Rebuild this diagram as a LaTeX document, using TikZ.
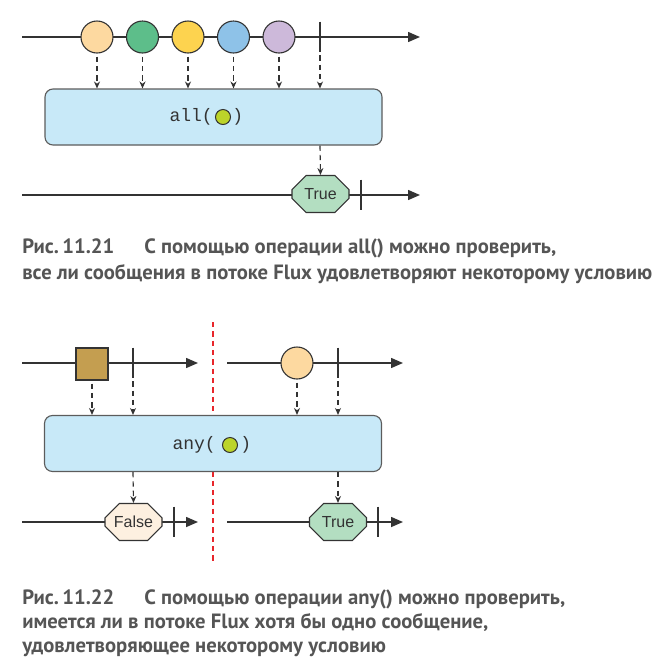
\documentclass[tikz,border=0pt]{standalone}
\usepackage{fontspec}
\setmainfont{Liberation Sans}
\setmonofont{Liberation Mono}
\newfontfamily\capfont{PT Sans}
\usetikzlibrary{arrows.meta,shapes.misc}
\def\pxu{0.75pt}
\definecolor{ink}{HTML}{333333}
\definecolor{cpeach}{HTML}{FDD9A0}
\definecolor{cgreen}{HTML}{5DBE8A}
\definecolor{cyellow}{HTML}{FDD34F}
\definecolor{cblue}{HTML}{8EC2E8}
\definecolor{clav}{HTML}{CDB9DA}
\definecolor{boxfill}{HTML}{C8E9F8}
\definecolor{gdotc}{HTML}{BCD42A}
\definecolor{truec}{HTML}{B3DEC1}
\definecolor{falsec}{HTML}{FDF0E0}
\definecolor{sqc}{HTML}{C49E50}
\definecolor{redd}{HTML}{E8262B}
\definecolor{capc}{HTML}{555555}
\tikzset{
  tl/.style={draw=ink, line width=1.5*\pxu, -{Triangle[length=12*\pxu, width=10*\pxu]}},
  ev/.style={circle, draw=ink, line width=1.1*\pxu, minimum size=32*\pxu, inner sep=0pt},
  sq/.style={rectangle, draw=ink, line width=1.1*\pxu, minimum size=32*\pxu, inner sep=0pt, fill=sqc},
  tickn/.style={inner sep=0pt, minimum width=0pt, minimum height=30*\pxu},
  tickline/.style={draw=ink, line width=2.2*\pxu},
  da/.style={draw=ink, line width=0.85pt, dash pattern=on 4pt off 3pt, -{Stealth[length=5.2pt, width=4.5pt]}},
  opbox/.style={rectangle, rounded corners=6pt, draw=ink!80, line width=0.85pt, fill=boxfill, minimum width=337*\pxu, minimum height=56*\pxu, inner sep=0pt},
  mono/.style={font=\ttfamily\fontsize{13.5}{13.5}\selectfont, text=ink, inner sep=0pt},
  gdot/.style={circle, draw=ink, line width=0.75pt, fill=gdotc, minimum size=15*\pxu, inner sep=0pt},
  oct/.style={chamfered rectangle, chamfered rectangle xsep=10*\pxu, chamfered rectangle ysep=8.5*\pxu, draw=ink, line width=0.85pt, minimum width=57*\pxu, minimum height=37*\pxu, inner sep=0pt, font=\fontsize{12}{12}\selectfont, text=ink},
  capt/.style={anchor=base west, inner sep=0pt, text=capc, font=\capfont\bfseries\fontsize{15.5}{15.5}\selectfont},
  redl/.style={draw=redd, line width=1.3pt, dash pattern=on 4pt off 3pt}
}
\begin{document}
\begin{tikzpicture}[x=0.75pt, y=-0.75pt]
\useasboundingbox (0,0) rectangle (656,658);
% ---------- Figure 11.21 ----------
\coordinate (a0) at (22,37);
\coordinate (a1) at (420,37);
\draw[tl] (a0) -- (a1);
\node[ev, fill=cpeach] (e1) at (97,37) {};
\node[ev, fill=cgreen] (e2) at (142.5,37) {};
\node[ev, fill=cyellow] (e3) at (188,37) {};
\node[ev, fill=cblue] (e4) at (233.5,37) {};
\node[ev, fill=clav] (e5) at (279,37) {};
\node[tickn] (t1) at (320,37) {};
\draw[tickline] (t1.north) -- (t1.south);
\node[opbox] (b1) at (213.5,117) {};
\node[mono, anchor=east] (l1) at (213,117) {all(};
\node[gdot] (g1) at (223,117) {};
\node[mono, anchor=west] (r1) at (232,117) {)};
\foreach \n in {e1,e2,e3,e4,e5} \draw[da] (\n.south) ++(0,3) -- (\n.south |- b1.north);
\draw[da] (t1.south) ++(0,3) -- (t1 |- b1.north);
\coordinate (c0) at (22,195);
\coordinate (c1) at (420,195);
\draw[tl] (c0) -- (c1);
\node[oct, fill=truec] (o1) at (320.5,194) {True};
\node[tickn] (t2) at (361,195) {};
\draw[tickline] (t2.north) -- (t2.south);
\draw[da] (b1.south -| t1) -- (o1.north);
\node[capt] (cap1a) at (22,253) {Рис.\,11.21\hspace{1.45em}С помощью операции all() можно проверить,};
\node[capt] (cap1b) at (22,279) {все ли сообщения в потоке Flux удовлетворяют некоторому условию};
% ---------- Figure 11.22 ----------
\coordinate (rt) at (213.3,322);
\coordinate (rb) at (213.3,564);
\draw[redl] (rt) -- (rb);
\coordinate (p0) at (22,363);
\coordinate (p1) at (198,363);
\draw[tl] (p0) -- (p1);
\coordinate (q0) at (227,363);
\coordinate (q1) at (403,363);
\draw[tl] (q0) -- (q1);
\node[sq] (s1) at (92,364) {};
\node[tickn] (t3) at (133,363) {};
\draw[tickline] (t3.north) -- (t3.south);
\node[ev, fill=cpeach] (e6) at (297,363) {};
\node[tickn] (t4) at (338,363) {};
\draw[tickline] (t4.north) -- (t4.south);
\node[opbox] (b2) at (213,443.5) {};
\node[mono, anchor=east] (l2) at (216,445) {any(};
\node[gdot] (g2) at (230,445) {};
\node[mono, anchor=west] (r2) at (240,445) {)};
\draw[da] (s1.south) ++(0,3) -- (s1.south |- b2.north);
\draw[da] (t3.south) ++(0,3) -- (t3 |- b2.north);
\draw[da] (e6.south) ++(0,3) -- (e6.south |- b2.north);
\draw[da] (t4.south) ++(0,3) -- (t4 |- b2.north);
\coordinate (u0) at (22,522);
\coordinate (u1) at (198,522);
\draw[tl] (u0) -- (u1);
\coordinate (v0) at (227,522);
\coordinate (v1) at (403,522);
\draw[tl] (v0) -- (v1);
\node[oct, fill=falsec] (o2) at (133.5,522) {False};
\node[tickn] (t5) at (174,522) {};
\draw[tickline] (t5.north) -- (t5.south);
\node[oct, fill=truec] (o3) at (338,522) {True};
\node[tickn] (t6) at (378,522) {};
\draw[tickline] (t6.north) -- (t6.south);
\draw[da] (b2.south -| t3) -- (o2.north);
\draw[da] (b2.south -| t4) -- (o3.north);
\node[capt] (cap2a) at (22,604) {Рис.\,11.22\hspace{1.45em}С помощью операции any() можно проверить,};
\node[capt] (cap2b) at (22,628) {имеется ли в потоке Flux хотя бы одно сообщение,};
\node[capt] (cap2c) at (22,652) {удовлетворяющее некоторому условию};
\end{tikzpicture}
\end{document}
